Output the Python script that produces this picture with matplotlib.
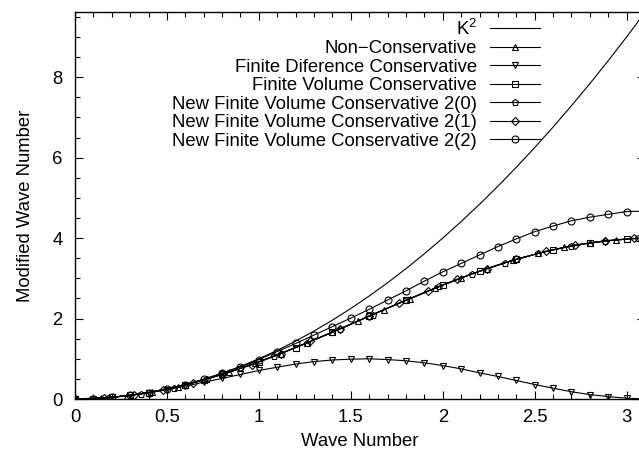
import matplotlib
matplotlib.use("Agg")
import matplotlib.pyplot as plt
from matplotlib.ticker import MultipleLocator

plt.rcParams['font.family'] = ['Liberation Sans', 'DejaVu Sans']
plt.rcParams['font.size'] = 13.3
plt.rcParams['mathtext.fontset'] = 'custom'
plt.rcParams['mathtext.rm'] = 'Liberation Sans'
plt.rcParams['mathtext.it'] = 'Liberation Sans'

# K^2 reference curve and the 2(2) / finite difference series (step 0.1)
k_fine = [0.0, 0.1, 0.2, 0.3, 0.4, 0.5, 0.6, 0.7, 0.8, 0.9, 1.0, 1.1, 1.2, 1.3, 1.4, 1.5,
          1.6, 1.7, 1.8, 1.9, 2.0, 2.1, 2.2, 2.3, 2.4, 2.5, 2.6, 2.7, 2.8, 2.9, 3.0, 3.1]
k_sq = [0.0, 0.01, 0.04, 0.09, 0.16, 0.25, 0.36, 0.49, 0.64, 0.81, 1.0, 1.21, 1.44, 1.69, 1.96, 2.25,
        2.56, 2.89, 3.24, 3.61, 4.0, 4.41, 4.84, 5.29, 5.76, 6.25, 6.76, 7.29, 7.84, 8.41, 9.0, 9.61]
fd_cons = [0.0, 0.01, 0.04, 0.09, 0.15, 0.23, 0.32, 0.42, 0.51, 0.61, 0.71, 0.79, 0.87, 0.93, 0.97, 0.99,
           1.0, 0.98, 0.95, 0.9, 0.83, 0.75, 0.65, 0.56, 0.46, 0.36, 0.27, 0.18, 0.11, 0.06, 0.02, 0.0]
nfv_2_2 = [0.0, 0.01, 0.04, 0.09, 0.16, 0.25, 0.36, 0.49, 0.64, 0.8, 0.98, 1.18, 1.38, 1.59, 1.8, 2.01,
           2.23, 2.46, 2.69, 2.93, 3.16, 3.37, 3.58, 3.79, 3.98, 4.16, 4.3, 4.43, 4.52, 4.59, 4.66, 4.67]

# Non-conservative
k_nc = [0.0, 0.14, 0.28, 0.42, 0.56, 0.7, 0.84, 0.98, 1.12, 1.26, 1.4, 1.54, 1.68, 1.82, 1.96,
        2.1, 2.24, 2.38, 2.52, 2.66, 2.8, 2.94, 3.08]
non_cons = [0.0, 0.02, 0.08, 0.17, 0.31, 0.47, 0.67, 0.89, 1.13, 1.39, 1.66, 1.94, 2.22, 2.49, 2.76,
            3.01, 3.24, 3.45, 3.62, 3.77, 3.88, 3.96, 4.0]

# Finite volume conservative
k_fv = [0.0, 0.2, 0.4, 0.6, 0.8, 1.0, 1.2, 1.4, 1.6, 1.8, 2.0, 2.2, 2.4, 2.6, 2.8, 3.0]
fv_cons = [0.0, 0.04, 0.16, 0.35, 0.61, 0.92, 1.28, 1.66, 2.06, 2.46, 2.83, 3.18, 3.48, 3.71, 3.88, 3.98]

# New finite volume conservative 2(0)
k_n0 = [0.0, 0.18, 0.36, 0.54, 0.72, 0.9, 1.08, 1.26, 1.44, 1.62, 1.8, 1.98, 2.16, 2.34, 2.52,
        2.7, 2.88, 3.06]
nfv_2_0 = [0.0, 0.03, 0.13, 0.28, 0.5, 0.76, 1.06, 1.39, 1.74, 2.1, 2.45, 2.8, 3.11, 3.39, 3.62,
           3.81, 3.93, 3.99]

# New finite volume conservative 2(1)
k_n1 = [0.0, 0.16, 0.32, 0.48, 0.64, 0.8, 0.96, 1.12, 1.28, 1.44, 1.6, 1.76, 1.92, 2.08, 2.24,
        2.4, 2.56, 2.72, 2.88, 3.04]
nfv_2_1 = [0.0, 0.03, 0.1, 0.23, 0.4, 0.61, 0.85, 1.13, 1.43, 1.74, 2.06, 2.38, 2.68, 2.98, 3.24,
           3.47, 3.67, 3.83, 3.93, 3.99]

fig = plt.figure(figsize=(6.39, 4.53), dpi=100)
ax = fig.add_axes([0.1174, 0.1192, 0.892, 0.8543])

lw = 0.8
mk = dict(color='black', lw=lw, mfc='none', mew=0.8)
ax.plot(k_fine, k_sq, color='black', lw=lw, label='K$^2$')
ax.plot(k_nc, non_cons, marker='^', ms=5, label='Non\u2212Conservative', **mk)
ax.plot(k_fine, fd_cons, marker='v', ms=5, label='Finite Diference Conservative', **mk)
ax.plot(k_fv, fv_cons, marker='s', ms=5, label='Finite Volume Conservative', **mk)
ax.plot(k_n0, nfv_2_0, marker='p', ms=5, label='New Finite Volume Conservative 2(0)', **mk)
ax.plot(k_n1, nfv_2_1, marker='D', ms=4, label='New Finite Volume Conservative 2(1)', **mk)
ax.plot(k_fine, nfv_2_2, marker='o', ms=5, label='New Finite Volume Conservative 2(2)', **mk)

ax.set_xlim(0, 3.1)
ax.set_ylim(0, 9.62)
ax.xaxis.set_major_locator(MultipleLocator(0.5))
ax.xaxis.set_minor_locator(MultipleLocator(0.1))
ax.yaxis.set_major_locator(MultipleLocator(2))
ax.yaxis.set_minor_locator(MultipleLocator(0.5))
ax.set_xticks([0, 0.5, 1, 1.5, 2, 2.5, 3], ['0', '0.5', '1', '1.5', '2', '2.5', '3'])
ax.tick_params(which='both', direction='in', top=True, right=True, width=0.8)
ax.tick_params(axis='x', which='major', length=6, pad=7)
ax.tick_params(axis='y', which='major', length=6, pad=9)
ax.tick_params(which='minor', length=3.5)
for s in ax.spines.values():
    s.set_linewidth(1.0)

ax.set_xlabel('Wave Number', labelpad=5)
ax.set_ylabel('Modified Wave Number', labelpad=13)

ax.legend(loc='upper right', bbox_to_anchor=(0.845, 0.959), bbox_transform=fig.transFigure,
          frameon=False, markerfirst=False, handlelength=2.7, handletextpad=0.7,
          labelspacing=0.08, borderpad=0, borderaxespad=0)

fig.savefig('out.png', dpi=100)
